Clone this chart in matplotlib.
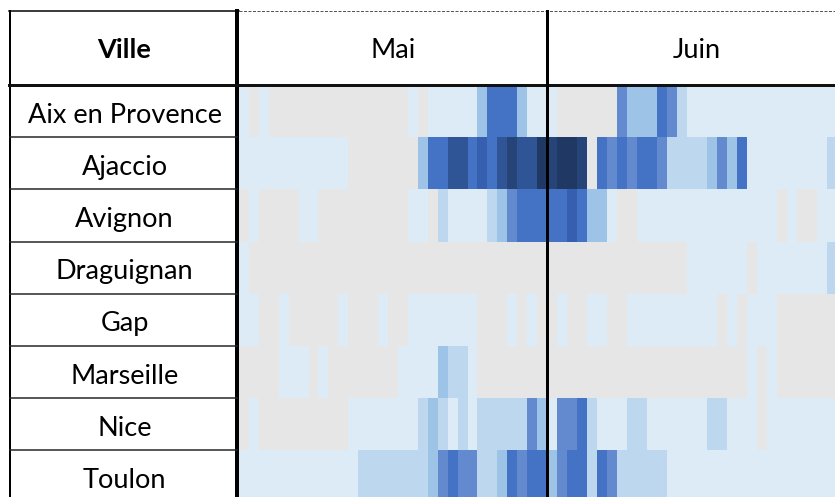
import numpy as np
import matplotlib.pyplot as plt
from matplotlib.colors import ListedColormap, BoundaryNorm

# cities and daily levels (0 = grey / no data, 1..9 = light to dark blue)
villes = ["Aix en Provence", "Ajaccio", "Avignon", "Draguignan", "Gap", "Marseille", "Nice", "Toulon"]
mois = ["Mai", "Juin"]

mai = {
    "Aix en Provence": [1,0,1,0,0,0,0,0,0,0,0,0,0,0,0,0,0,1,0,1,1,1,1,1,3,5,5,5,3,1,1],
    "Ajaccio":         [1,1,1,1,1,1,1,1,1,1,1,0,0,0,0,0,0,0,3,5,5,7,7,5,6,5,7,8,7,7,9],
    "Avignon":         [0,1,0,0,0,0,1,1,0,0,0,0,0,0,0,0,0,1,1,0,2,1,1,1,1,2,3,4,5,5,5],
    "Draguignan":      [1,0,0,0,0,0,0,0,0,0,0,0,0,0,0,0,0,0,0,0,0,0,0,0,0,0,0,0,0,0,0],
    "Gap":             [1,1,0,0,1,0,0,0,0,0,1,0,0,0,1,0,0,1,1,1,1,1,1,1,0,0,0,1,0,1,0],
    "Marseille":       [0,0,0,0,1,1,1,0,1,0,0,0,0,0,0,0,1,1,1,1,3,2,2,1,0,0,0,0,0,0,0],
    "Nice":            [0,1,0,0,0,0,0,0,0,0,0,1,1,1,1,1,1,1,2,3,2,1,2,1,2,2,2,2,2,4,3],
    "Toulon":          [1,1,1,1,1,1,1,1,1,1,1,1,2,2,2,2,2,2,2,3,4,5,4,4,2,2,3,5,4,5,5],
}
juin = {
    "Aix en Provence": [1,0,0,0,0,0,0,4,3,3,3,5,4,2,1,1,1,1,1,1,1,1,1,1,1,1,1,1,1,1],
    "Ajaccio":         [8,9,9,8,0,5,4,5,4,5,5,4,2,2,2,2,3,4,3,5,1,1,1,1,1,1,1,1,2,2],
    "Avignon":         [5,5,6,5,3,3,1,0,0,1,1,1,1,1,1,1,1,1,1,1,1,1,1,0,1,0,0,1,1,1],
    "Draguignan":      [0,0,0,0,0,0,0,0,0,0,0,0,0,0,1,1,1,1,1,1,0,1,1,1,1,1,1,1,2,2],
    "Gap":             [0,1,0,0,1,1,0,0,1,1,1,1,1,1,1,1,1,0,1,0,1,1,1,0,0,0,0,0,0,0],
    "Marseille":       [0,0,0,0,0,0,0,0,0,0,0,0,0,0,0,0,0,0,0,0,1,0,1,0,0,0,0,0,0,0],
    "Nice":            [1,4,4,5,2,1,1,1,2,2,1,1,1,1,1,1,2,2,1,1,1,0,1,1,1,1,1,1,1,1],
    "Toulon":          [3,4,5,5,2,5,4,2,2,2,2,2,1,1,1,1,1,1,1,1,1,1,1,1,1,1,1,1,1,1],
}

couleurs = ["#e6e6e6", "#ddebf7", "#bdd7ee", "#9dc3e6", "#6389ce",
            "#4472c4", "#375fb0", "#2f5597", "#264478", "#1f3864"]

grid = np.array([mai[v] + juin[v] for v in villes])

fig = plt.figure(figsize=(8.35, 4.97), dpi=100)
ax = fig.add_axes([0, 0, 1, 1])
ax.set_xlim(0, 835)
ax.set_ylim(497, 0)
ax.axis("off")

# table geometry in pixels
x_left, x_col, x_mid, x_end = 10, 239, 547, 847
y_top, y_head, row_h = 11, 85, 52.2

x_edges = np.concatenate([np.linspace(x_col, x_mid, len(mai["Nice"]) + 1),
                          np.linspace(x_mid, x_end, len(juin["Nice"]) + 1)[1:]])
y_edges = y_head + row_h * np.arange(len(villes) + 1)

cmap = ListedColormap(couleurs)
norm = BoundaryNorm(np.arange(-0.5, len(couleurs)), cmap.N)
ax.pcolormesh(x_edges, y_edges, grid, cmap=cmap, norm=norm, shading="flat")

font = ["Lato", "DejaVu Sans"]
fs = 19.5
y_hdr = (y_top + y_head) / 2 + 2
ax.text((x_left + x_col) / 2, y_hdr, "Ville", ha="center", va="center",
        fontsize=fs, fontweight="bold", family=font)
ax.text((x_col + x_mid) / 2, y_hdr, mois[0], ha="center", va="center", fontsize=fs, family=font)
ax.text((x_mid + x_end) / 2, y_hdr, mois[1], ha="center", va="center", fontsize=fs, family=font)
for i, v in enumerate(villes):
    ax.text((x_left + x_col) / 2, y_head + row_h * (i + 0.5) + 4, v, ha="center", va="center",
            fontsize=fs, family=font)

px = 0.72
# frame of the city column
ax.plot([x_left - 1, x_col], [y_top, y_top], color="black", lw=1.5 * px)
ax.plot([x_left, x_left], [y_top, 497], color="black", lw=2 * px)
ax.plot([x_col - 2, x_col - 2], [y_top, 497], color="black", lw=4 * px)
for y in y_edges[1:-1]:
    ax.plot([x_left, x_col - 2], [y, y], color="#222222", lw=1.5 * px)
# dashed top over the months, header bottom and month divider
ax.plot([x_col, 835], [y_top, y_top], color="#555555", lw=1 * px, dashes=(3, 1.5))
ax.plot([x_left - 1, 835], [y_head, y_head], color="#111111", lw=3 * px)
ax.plot([x_mid - 0.5, x_mid - 0.5], [y_top, 497], color="black", lw=3 * px)

fig.savefig("out.png", dpi=100)
